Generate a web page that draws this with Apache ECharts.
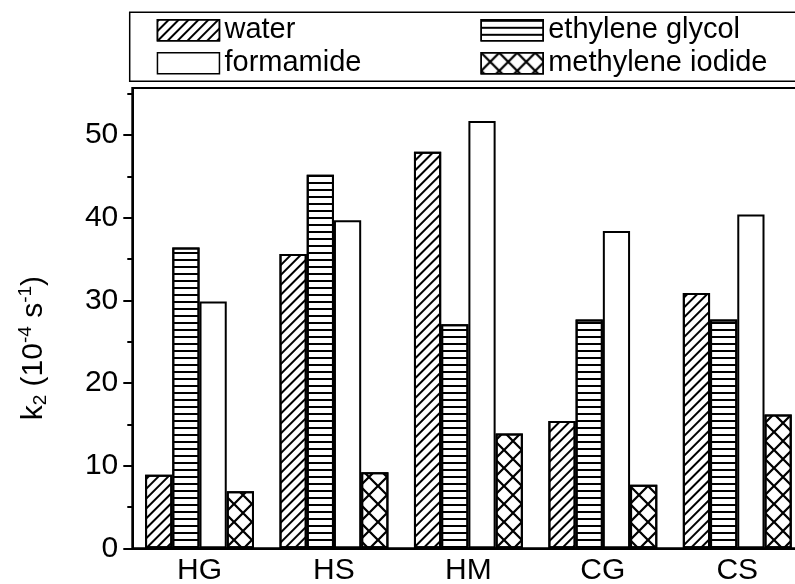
<!DOCTYPE html>
<html><head><meta charset="utf-8">
<script src="https://cdn.jsdelivr.net/npm/echarts@6/dist/echarts.min.js"></script>
<style>html,body{margin:0;padding:0;background:#fff}#c{width:795px;height:584px}</style>
</head><body><div id="c"></div>
<script>
const categories = ['HG', 'HS', 'HM', 'CG', 'CS'];
const seriesNames = ['water', 'ethylene glycol', 'formamide', 'methylene iodide'];
const water = [8.9, 35.6, 48.0, 15.4, 30.9];
const ethyleneGlycol = [36.4, 45.2, 27.1, 27.7, 27.7];
const formamide = [29.85, 39.7, 51.7, 38.4, 40.4];
const methyleneIodide = [6.9, 9.2, 13.9, 7.7, 16.2];
const majorTicks = [0, 10, 20, 30, 40, 50];
const minorTicks = [5, 15, 25, 35, 45, 55];
const yMin = 0, yMax = 55.7;

const FONT = 'Liberation Sans';
const hatch = { symbol: 'rect', symbolSize: 1, color: '#000', dashArrayX: [1, 0], dashArrayY: [1.6, 4.4], rotation: -Math.PI / 4 };
const horiz = { symbol: 'rect', symbolSize: 1, color: '#000', dashArrayX: [1, 0], dashArrayY: [1.6, 4.4], rotation: 0 };
const cross = { symbol: 'path://M0,0L9,0L100,91L100,100L91,100L0,9Z M91,0L100,0L100,9L9,100L0,100L0,91Z', symbolSize: 1, color: '#000', dashArrayX: [[18, 0]], dashArrayY: [18, 0], rotation: 0 };

function bar(name, data, decal) {
  const itemStyle = { color: '#fff', borderColor: '#000', borderWidth: 2 };
  if (decal) itemStyle.decal = decal;
  return { type: 'bar', name, data, barGap: '0%', barCategoryGap: '19%', itemStyle, emphasis: { disabled: true }, animation: false };
}

const chart = echarts.init(document.getElementById('c'), null, { renderer: 'canvas' });
chart.setOption({
  backgroundColor: '#fff',
  animation: false,
  textStyle: { fontFamily: FONT, color: '#000' },
  grid: { left: 132.3, top: 88, right: -9.5, bottom: 35.7, show: true, borderColor: '#000', borderWidth: 2, backgroundColor: 'transparent', containLabel: false, outerBoundsMode: 'none' },
  legend: {
    left: 129.7, top: 12.3, width: 680, orient: 'horizontal',
    padding: [3, 30, 3, 27], itemGap: 3, itemWidth: 62, itemHeight: 21,
    borderColor: '#000', borderWidth: 1.5, icon: 'rect', selectedMode: false,
    textStyle: { fontSize: 29, color: '#000', fontFamily: FONT, width: 253, lineHeight: 30 },
    itemStyle: { borderColor: '#000', borderWidth: 1.5 },
    data: seriesNames
  },
  xAxis: {
    type: 'category', data: categories,
    axisLine: { show: true, lineStyle: { color: '#000', width: 2 } },
    axisTick: { show: false },
    axisLabel: { fontSize: 30, color: '#000', fontFamily: FONT, margin: 7 },
    splitLine: { show: false }
  },
  yAxis: [{
    type: 'value', min: yMin, max: yMax, position: 'left',
    axisLine: { show: true, lineStyle: { color: '#000', width: 2 } },
    axisTick: { show: true, length: 9, customValues: majorTicks, lineStyle: { color: '#000', width: 2 } },
    axisLabel: { customValues: majorTicks, fontSize: 30, color: '#000', fontFamily: FONT, margin: 14 },
    splitLine: { show: false },
    name: '{a|k}{b|2}{a| (10}{c|-4}{a| s}{c|-1}{a|)}',
    nameLocation: 'middle', nameGap: 82, nameRotate: 90,
    nameTextStyle: {
      padding: [0, 60, 0, 0],
      rich: {
        a: { fontSize: 30, fontFamily: FONT, color: '#000', lineHeight: 34 },
        b: { fontSize: 19, fontFamily: FONT, color: '#000', lineHeight: 19, verticalAlign: 'bottom' },
        c: { fontSize: 19, fontFamily: FONT, color: '#000', lineHeight: 19, verticalAlign: 'top' }
      }
    }
  }, {
    type: 'value', min: yMin, max: yMax, position: 'left', offset: 0,
    axisLine: { show: false },
    axisTick: { show: true, length: 5, customValues: minorTicks, lineStyle: { color: '#000', width: 2 } },
    axisLabel: { show: false },
    splitLine: { show: false }
  }],
  series: [
    bar(seriesNames[0], water, hatch),
    bar(seriesNames[1], ethyleneGlycol, horiz),
    bar(seriesNames[2], formamide, null),
    bar(seriesNames[3], methyleneIodide, cross)
  ]
});
</script></body></html>
